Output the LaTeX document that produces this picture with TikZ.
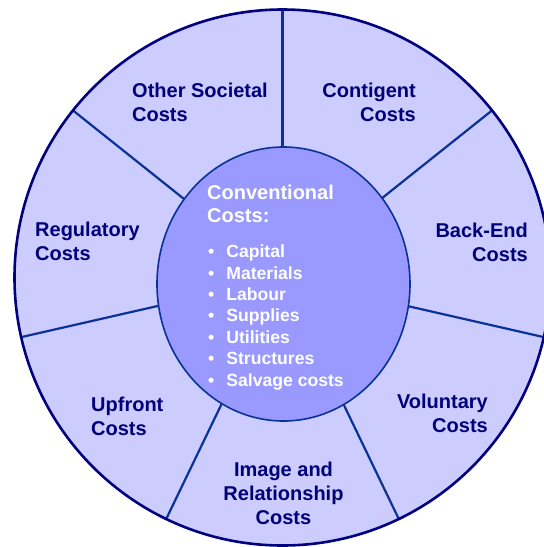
\documentclass[tikz,border=0pt]{standalone}
\usepackage{fontspec}
\setmainfont{Liberation Sans}
\definecolor{ringfill}{RGB}{204,204,255}
\definecolor{corefill}{RGB}{153,153,255}
\definecolor{rimline}{RGB}{0,0,128}
\definecolor{spokeline}{RGB}{10,50,150}
\definecolor{lbltext}{RGB}{0,0,120}
\begin{document}
\begin{tikzpicture}[x=1pt,y=-1pt,
  spoke/.style={draw=spokeline,line width=2.2pt},
  lbl/.style={inner sep=0pt,text=lbltext,font=\fontsize{20}{24}\selectfont\bfseries},
  corelbl/.style={inner sep=0pt,text=white,font=\fontsize{20}{23}\selectfont\bfseries},
  itemlbl/.style={inner sep=0pt,text=white,font=\fontsize{17.6}{21.4}\selectfont\bfseries}]
\useasboundingbox (0,0) rectangle (544,547);
\clip (0,0) rectangle (544,547);
\coordinate (C) at (282.5,277.5);
% outer ring
\fill[ringfill] (C) circle[radius=268];
\foreach \a in {-90,-38.571,12.857,64.286,115.714,167.143,218.571}
  \draw[spoke] (C) -- ++(\a:268);
\draw[rimline,line width=2.6pt] (C) circle[radius=268];
% inner core
\coordinate (K) at (283.5,284);
\filldraw[fill=corefill,draw=spokeline,line width=1.6pt] (K) ellipse[x radius=126.5,y radius=137];
% outer labels
\node[lbl,anchor=base west] (other) at (132,97.5) {\begin{tabular}[t]{@{}l@{}}Other Societal\\Costs\end{tabular}};
\node[lbl,anchor=base east] (contigent) at (416,97.5) {\begin{tabular}[t]{@{}r@{}}Contigent\\Costs\end{tabular}};
\node[lbl,anchor=base east] (backend) at (528,237.5) {\begin{tabular}[t]{@{}r@{}}Back-End\\Costs\end{tabular}};
\node[lbl,anchor=base west] (regulatory) at (35,236) {\begin{tabular}[t]{@{}l@{}}Regulatory\\Costs\end{tabular}};
\node[lbl,anchor=base west] (upfront) at (91,411) {\begin{tabular}[t]{@{}l@{}}Upfront\\Costs\end{tabular}};
\node[lbl,anchor=base] (image) at (283.5,476) {\begin{tabular}[t]{@{}c@{}}Image and\\Relationship\\Costs\end{tabular}};
\node[lbl,anchor=base east] (voluntary) at (488,408) {\begin{tabular}[t]{@{}r@{}}Voluntary\\Costs\end{tabular}};
% core labels
\node[corelbl,anchor=base west] (conv) at (207,199) {\begin{tabular}[t]{@{}l@{}}Conventional\\Costs:\end{tabular}};
\node[itemlbl,anchor=base west] (items) at (208,257.7) {\begin{tabular}[t]{@{}l@{\hspace{12pt}}l@{}}
•&Capital\\
•&Materials\\
•&Labour\\
•&Supplies\\
•&Utilities\\
•&Structures\\
•&Salvage costs\end{tabular}};
\end{tikzpicture}
\end{document}
